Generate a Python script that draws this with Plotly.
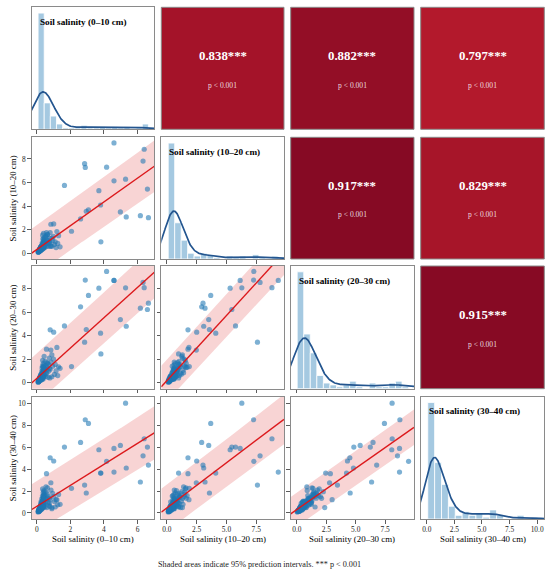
import numpy as np
import plotly.graph_objects as go

# ---------------- data ----------------
LABELS = ["Soil salinity (0–10 cm)", "Soil salinity (10–20 cm)",
          "Soil salinity (20–30 cm)", "Soil salinity (30–40 cm)"]

# soil salinity per sample (same sample order in every layer)
s1 = [0.08,0.09,0.10,0.10,0.11,0.11,0.12,0.12,0.13,0.13,0.14,0.14,0.15,0.15,0.16,0.16,0.17,0.17,0.18,0.18,
      0.18,0.19,0.19,0.20,0.20,0.20,0.21,0.21,0.22,0.22,0.22,0.23,0.23,0.24,0.24,0.24,0.25,0.25,0.25,0.25,
      0.26,0.26,0.27,0.27,0.28,0.28,0.29,0.29,0.30,0.30,0.31,0.31,0.32,0.32,0.33,0.33,0.34,0.34,0.35,0.35,
      0.36,0.36,0.37,0.37,0.38,0.38,0.39,0.39,0.40,0.40,0.41,0.42,0.42,0.43,0.44,
      0.30,0.32,0.34,0.36,0.38,0.40,0.41,0.42,0.43,0.44,0.46,0.48,0.50,0.52,0.55,0.57,0.60,0.62,0.64,0.67,
      0.70,0.72,0.75,0.78,0.80,
      0.35,0.40,0.44,0.55,0.65,0.75,0.85,0.90,0.95,1.00,1.05,1.10,1.15,1.25,1.30,
      1.39,0.84,1.20,0.90,
      4.60,4.60,6.40,6.33,2.85,2.89,4.16,1.65,5.29,3.70,6.59,3.80,3.82,3.08,2.95,4.98,5.33,6.17,6.65,2.61,
      2.07,0.80,1.01,0.58]
s2 = [0.11,0.14,0.12,0.18,0.15,0.22,0.13,0.20,0.16,0.25,0.19,0.28,0.17,0.23,0.31,0.21,0.26,0.34,0.24,0.38,
      0.29,0.20,0.42,0.33,0.27,0.45,0.36,0.30,0.48,0.39,0.25,0.52,0.35,0.44,0.28,0.55,0.40,0.47,0.58,0.32,
      0.35,0.50,0.30,0.61,0.43,0.38,0.56,0.47,0.33,0.64,0.52,0.41,0.59,0.70,0.46,0.37,0.62,0.53,0.78,0.44,
      0.57,0.65,0.49,0.85,0.60,0.40,0.55,0.92,0.63,0.48,0.74,0.58,1.05,0.51,0.67,
      0.62,0.88,0.45,1.22,0.70,0.55,1.10,0.80,0.60,1.35,0.95,0.50,1.02,0.76,1.48,0.64,1.15,0.90,1.60,0.59,
      1.08,0.83,1.30,0.98,0.62,
      1.55,1.70,1.25,1.40,1.62,0.95,0.62,0.60,1.10,1.45,0.75,0.98,0.50,0.85,1.50,
      0.56,2.47,1.85,1.30,
      9.35,6.15,8.82,7.82,7.60,7.28,7.30,5.76,6.29,5.31,5.45,4.10,0.98,3.68,3.57,3.51,3.09,3.20,3.03,2.92,
      1.88,1.77,2.50,1.77]
s3 = [0.03,0.08,0.12,0.06,0.15,0.10,0.20,0.18,0.09,0.22,0.14,0.25,0.30,0.17,0.28,0.35,0.21,0.40,0.26,0.33,
      0.45,0.19,0.38,0.24,0.50,0.31,0.42,0.27,0.55,0.36,0.47,0.29,0.58,0.43,0.34,0.66,0.52,0.39,0.71,0.49,
      0.22,0.41,0.57,0.33,0.48,0.29,0.64,0.37,0.53,0.75,0.44,0.26,0.82,0.55,0.61,0.40,0.68,0.35,0.90,0.50,
      0.72,0.46,0.59,0.97,0.31,0.78,0.56,1.05,0.43,0.86,0.52,1.12,0.60,0.93,1.28,
      0.95,1.25,1.40,0.72,1.62,0.58,1.35,0.88,1.50,1.05,1.20,0.66,1.82,0.53,1.45,1.10,0.80,1.70,1.28,0.45,
      1.55,0.98,2.10,0.40,1.15,
      1.90,1.30,2.25,0.85,1.65,1.20,1.75,0.50,1.40,2.00,0.70,1.55,1.00,0.60,1.35,
      1.22,2.78,3.00,2.37,
      8.72,8.72,8.10,8.55,3.45,8.75,9.49,4.84,8.09,8.06,6.24,4.22,2.45,7.44,4.53,5.38,4.81,6.35,6.78,6.47,
      1.37,4.50,4.30,2.85]
s4 = [0.09,0.15,0.21,0.12,0.18,0.25,0.14,0.30,0.22,0.19,0.28,0.35,0.24,0.16,0.40,0.31,0.27,0.45,0.20,0.38,
      0.52,0.33,0.29,0.47,0.36,0.58,0.26,0.43,0.62,0.34,0.55,0.41,0.70,0.49,0.60,0.78,0.44,0.64,0.85,1.02,
      0.31,0.52,0.68,0.40,0.75,0.58,0.49,0.88,0.37,0.95,0.61,0.46,0.72,1.08,0.55,0.60,0.63,0.43,1.15,0.57,
      0.92,0.65,0.84,1.33,0.51,0.54,1.01,1.21,0.59,0.98,0.62,1.42,0.86,1.60,1.12,
      1.30,0.98,1.55,1.10,1.85,0.62,1.45,2.05,1.70,0.80,1.38,0.55,1.62,1.00,1.92,1.28,0.48,1.75,2.30,0.92,
      1.50,0.70,1.34,0.60,1.18,
      2.20,1.60,1.95,2.40,1.35,0.90,2.10,0.40,1.80,1.50,1.05,0.55,1.20,0.75,1.70,
      0.79,2.77,1.22,0.49,
      3.75,5.91,6.80,5.24,2.56,8.54,4.73,6.04,10.06,5.79,6.04,3.66,3.66,8.20,1.83,6.19,4.12,2.84,4.39,6.46,
      2.26,5.06,4.76,3.60]

CORR_PAIRS = [(0, 1), (0, 2), (0, 3), (1, 2), (1, 3), (2, 3)]
CORR_R = [0.838, 0.882, 0.797, 0.917, 0.829, 0.915]
CORR_STARS = ["***", "***", "***", "***", "***", "***"]
CORR_P = ["p < 0.001"] * 6
FOOTNOTE = "Shaded areas indicate 95% prediction intervals. *** p < 0.001"

X_TICKVALS = [[0, 2, 4, 6], [0, 2.5, 5, 7.5], [0, 2.5, 5, 7.5], [0, 2.5, 5, 7.5, 10]]
X_TICKTEXT = [["0", "2", "4", "6"], ["0.0", "2.5", "5.0", "7.5"],
              ["0.0", "2.5", "5.0", "7.5"], ["0.0", "2.5", "5.0", "7.5", "10.0"]]
Y_TICKVALS = [[0, 2, 4, 6], [0, 2, 4, 6, 8], [0, 2, 4, 6, 8], [0, 2, 4, 6, 8, 10]]
Y_TICKTEXT = [["0", "2", "4", "6"], ["0", "2", "4", "6", "8"],
              ["0", "2", "4", "6", "8"], ["0", "2", "4", "6", "8", "10"]]

# ---------------- style / layout ----------------
W, H = 550, 577
FONT = "Liberation Serif, Times New Roman, serif"
AX_RANGE = [[-0.3, 7.0], [-0.47, 9.83], [-0.52, 9.95], [-0.55, 10.65]]
N_BINS = [18, 17, 17, 16]
COLS_PX = [(31.7, 154.3), (161.3, 284.0), (290.7, 414.0), (420.7, 544.3)]
ROWS_PX = [(7.3, 129.3), (137.3, 259.0), (266.0, 388.7), (396.7, 519.0)]
T_CRIT = 1.977  # two-sided 95% t quantile for the sample size used

BORDER = "#8a8a8a"
PT_COLOR = "rgba(31,119,180,0.58)"
BAR_COLOR = "rgba(31,119,180,0.40)"
KDE_COLOR = "#23558f"
LINE_RED = "rgb(220,25,28)"
BAND = "rgba(220,40,40,0.20)"

RDBU_R = ['#053061', '#2166ac', '#4393c3', '#92c5de', '#d1e5f0', '#f7f7f7',
          '#fddbc7', '#f4a582', '#d6604d', '#b2182b', '#67001f']


def hex2rgb(h):
    h = h.lstrip('#')
    return [int(h[i:i + 2], 16) for i in (0, 2, 4)]


def cmap(r):
    t = (r + 1) / 2 * (len(RDBU_R) - 1)
    i = min(int(np.floor(t)), len(RDBU_R) - 2)
    f = t - i
    a, b = hex2rgb(RDBU_R[i]), hex2rgb(RDBU_R[i + 1])
    c = [round(a[k] + (b[k] - a[k]) * f) for k in range(3)]
    return f"rgb({c[0]},{c[1]},{c[2]})"


def px2x(px):
    return px / W


def px2y(py):
    return 1 - py / H


data = [np.array(v, dtype=float) for v in (s1, s2, s3, s4)]

fig = go.Figure()
layout = {}
shapes = []
annotations = []

tick_common = dict(ticks="outside", ticklen=3.5, tickwidth=0.8, tickcolor="#333",
                   tickfont=dict(family=FONT, size=7.4, color="#222"),
                   ticklabeloverflow="allow")
line_common = dict(showline=True, mirror=True, linecolor=BORDER, linewidth=1,
                   showgrid=False, zeroline=False, automargin=False, fixedrange=True)

for i in range(4):
    for j in range(4):
        k = i * 4 + j + 1
        xn = "x" if k == 1 else f"x{k}"
        yn = "y" if k == 1 else f"y{k}"
        xkey = "xaxis" if k == 1 else f"xaxis{k}"
        ykey = "yaxis" if k == 1 else f"yaxis{k}"
        x0, x1 = COLS_PX[j]
        y0, y1 = ROWS_PX[i]
        xdom = [px2x(x0), px2x(x1)]
        ydom = [px2y(y1), px2y(y0)]

        if i < j:
            idx = CORR_PAIRS.index((i, j))
            r = CORR_R[idx]
            shapes.append(dict(type="rect", xref="paper", yref="paper",
                               x0=xdom[0], x1=xdom[1], y0=ydom[0], y1=ydom[1],
                               fillcolor=cmap(r), line=dict(color=BORDER, width=1)))
            cx = (x0 + x1) / 2
            cy = (y0 + y1) / 2
            annotations.append(dict(xref="paper", yref="paper", x=px2x(cx), y=px2y(cy - 12.6),
                                    text=f"<b>{r:.3f}{CORR_STARS[idx]}</b>", showarrow=False,
                                    xanchor="center", yanchor="middle",
                                    font=dict(family=FONT, size=12.8, color="white")))
            annotations.append(dict(xref="paper", yref="paper", x=px2x(cx), y=px2y(cy + 16.7),
                                    text=CORR_P[idx], showarrow=False,
                                    xanchor="center", yanchor="middle",
                                    font=dict(family=FONT, size=7.6, color="rgba(255,255,255,0.85)")))
            continue

        layout[xkey] = dict(domain=xdom, anchor=yn, range=AX_RANGE[j],
                            tickmode="array", tickvals=X_TICKVALS[j], ticktext=X_TICKTEXT[j],
                            showticklabels=(i == 3), **tick_common, **line_common)

        if i == j:
            x = data[i]
            n = len(x)
            counts, edges = np.histogram(x, bins=N_BINS[i])
            bw_bin = edges[1] - edges[0]
            centers = (edges[:-1] + edges[1:]) / 2
            bw = x.std(ddof=1) * n ** (-0.2)
            grid = np.linspace(x.min() - 3 * bw, x.max() + 3 * bw, 400)
            dens = np.exp(-0.5 * ((grid[:, None] - x[None, :]) / bw) ** 2).sum(1) / (n * bw * np.sqrt(2 * np.pi))
            kde_y = dens * n * bw_bin
            ymax = max(counts.max(), kde_y.max()) * 1.05
            fig.add_trace(go.Bar(x=centers, y=counts, width=bw_bin, xaxis=xn, yaxis=yn,
                                 marker=dict(color=BAR_COLOR, line=dict(color="white", width=0.8)),
                                 showlegend=False, hoverinfo="skip"))
            fig.add_trace(go.Scatter(x=grid, y=kde_y, mode="lines", xaxis=xn, yaxis=yn,
                                     line=dict(color=KDE_COLOR, width=1.7),
                                     showlegend=False, hoverinfo="skip"))
            layout[ykey] = dict(domain=ydom, anchor=xn, range=[0, ymax],
                                showticklabels=False, ticks="", **line_common)
            annotations.append(dict(xref="paper", yref="paper", x=px2x(x0 + 6), y=px2y(y0 + 14.5),
                                    text=f"<b>{LABELS[i]}</b>", showarrow=False,
                                    xanchor="left", yanchor="middle",
                                    font=dict(family=FONT, size=9.2, color="black")))
        else:
            xv, yv = data[j], data[i]
            n = len(xv)
            b, a = np.polyfit(xv, yv, 1)
            res = yv - (a + b * xv)
            s = np.sqrt((res ** 2).sum() / (n - 2))
            xbar = xv.mean()
            sxx = ((xv - xbar) ** 2).sum()
            gx = np.linspace(AX_RANGE[j][0], AX_RANGE[j][1], 120)
            gy = a + b * gx
            half = T_CRIT * s * np.sqrt(1 + 1 / n + (gx - xbar) ** 2 / sxx)
            fig.add_trace(go.Scatter(x=np.concatenate([gx, gx[::-1]]),
                                     y=np.concatenate([gy + half, (gy - half)[::-1]]),
                                     fill="toself", fillcolor=BAND, mode="lines",
                                     line=dict(width=0), xaxis=xn, yaxis=yn,
                                     showlegend=False, hoverinfo="skip"))
            fig.add_trace(go.Scatter(x=xv, y=yv, mode="markers", xaxis=xn, yaxis=yn,
                                     marker=dict(size=5.2, color=PT_COLOR, line=dict(width=0)),
                                     showlegend=False, hoverinfo="skip"))
            fig.add_trace(go.Scatter(x=gx, y=gy, mode="lines", xaxis=xn, yaxis=yn,
                                     line=dict(color=LINE_RED, width=1.4),
                                     showlegend=False, hoverinfo="skip"))
            layout[ykey] = dict(domain=ydom, anchor=xn, range=AX_RANGE[i],
                                tickmode="array", tickvals=Y_TICKVALS[i], ticktext=Y_TICKTEXT[i],
                                showticklabels=(j == 0), **tick_common, **line_common)

# axis titles
for j in range(4):
    cx = (COLS_PX[j][0] + COLS_PX[j][1]) / 2
    annotations.append(dict(xref="paper", yref="paper", x=px2x(cx), y=px2y(538.5),
                            text=LABELS[j], showarrow=False, xanchor="center", yanchor="middle",
                            font=dict(family=FONT, size=8.9, color="black")))
for i in range(1, 4):
    cy = (ROWS_PX[i][0] + ROWS_PX[i][1]) / 2
    annotations.append(dict(xref="paper", yref="paper", x=px2x(13.3), y=px2y(cy),
                            text=LABELS[i], showarrow=False, xanchor="center", yanchor="middle",
                            textangle=-90,
                            font=dict(family=FONT, size=8.9, color="black")))

annotations.append(dict(xref="paper", yref="paper", x=px2x(259.7), y=px2y(564),
                        text=FOOTNOTE, showarrow=False, xanchor="center", yanchor="middle",
                        font=dict(family=FONT, size=8.2, color="#222")))

fig.update_layout(template="none", width=W, height=H, margin=dict(l=0, r=0, t=0, b=0, autoexpand=False),
                  paper_bgcolor="white", plot_bgcolor="white", showlegend=False,
                  bargap=0, shapes=shapes, annotations=annotations, **layout)

fig.write_html("out.html", config={"displayModeBar": False, "staticPlot": True},
               post_script="document.body.style.margin='0px';document.body.style.overflow='hidden';")
